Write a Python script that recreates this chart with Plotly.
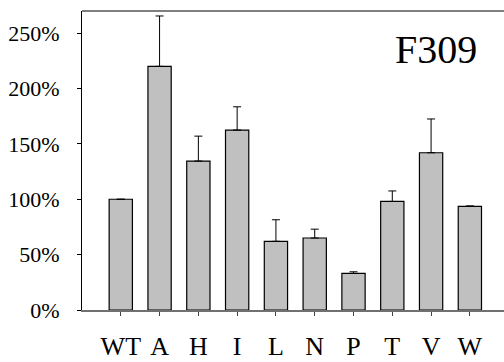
import plotly.graph_objects as go

# Relative activity of F309 substitutions (percent of wild type)
variants = ["WT", "A", "H", "I", "L", "N", "P", "T", "V", "W"]
activity = [100, 220, 134.5, 162.5, 62, 65, 33, 98, 142, 93.5]
error_up = [0, 45.5, 22.5, 21, 19.5, 8, 1.5, 9.5, 30.5, 0.5]

y_ticks = [0, 50, 100, 150, 200, 250]
y_tick_text = ["0%", "50%", "100%", "150%", "200%", "250%"]

serif = "Liberation Serif"

fig = go.Figure(
    go.Bar(
        x=list(range(len(variants))),
        y=activity,
        width=0.6,
        marker=dict(color="#c0c0c0", line=dict(color="black", width=1.2)),
        error_y=dict(
            type="data",
            symmetric=False,
            array=error_up,
            arrayminus=[0] * len(error_up),
            color="black",
            thickness=1,
            width=4,
        ),
    )
)

fig.update_layout(
    width=504,
    height=362,
    margin=dict(l=82, r=0, t=11, b=52),
    paper_bgcolor="white",
    plot_bgcolor="white",
    showlegend=False,
    font=dict(family=serif, color="black"),
)

fig.update_xaxes(
    range=[-1, 9.88],
    tickmode="array",
    tickvals=list(range(len(variants))),
    ticktext=variants,
    ticks="outside",
    ticklen=4,
    tickcolor="#444444",
    tickfont=dict(size=26, family=serif, color="black"),
    ticklabelstandoff=8,
    showline=True,
    linecolor="#707070",
    linewidth=1.5,
    showgrid=False,
    zeroline=False,
)

fig.update_yaxes(
    range=[0, 270],
    tickmode="array",
    tickvals=y_ticks,
    ticktext=y_tick_text,
    ticks="outside",
    ticklen=4,
    tickcolor="black",
    tickfont=dict(size=22, family=serif, color="black"),
    ticklabelstandoff=13,
    showline=True,
    linecolor="black",
    linewidth=1,
    showgrid=False,
    zeroline=False,
)

# Top border of the plot frame
fig.add_shape(
    type="line", xref="paper", yref="paper",
    x0=0, x1=1, y0=1, y1=1,
    line=dict(color="black", width=1.2),
)

fig.add_annotation(
    text="F309",
    xref="paper", yref="paper",
    x=0.84, y=0.87,
    xanchor="center", yanchor="middle",
    showarrow=False,
    font=dict(size=40, family=serif, color="black"),
)

fig.write_html("out.html")
